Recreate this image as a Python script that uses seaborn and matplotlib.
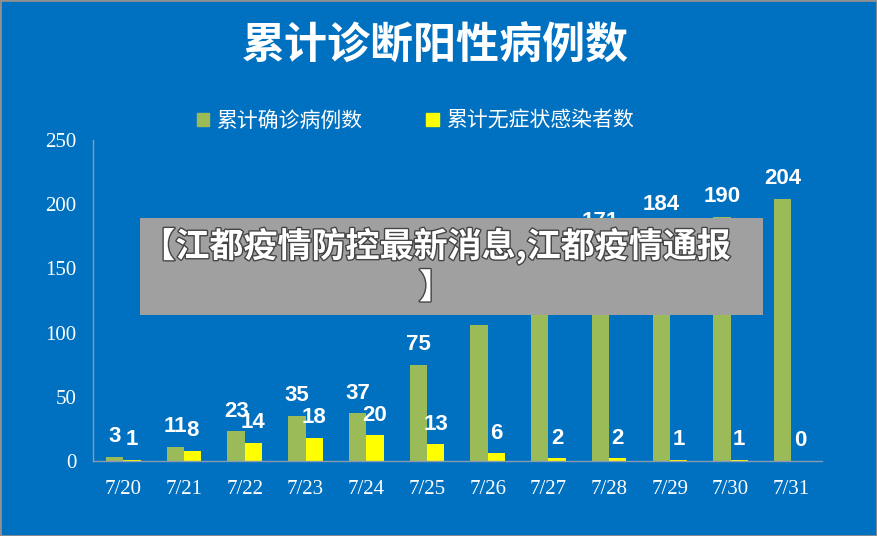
import matplotlib
matplotlib.use("Agg")
import matplotlib.pyplot as plt
import matplotlib.patheffects as pe
from matplotlib.patches import Rectangle
import seaborn as sns
import pandas as pd

dates = ["7/20", "7/21", "7/22", "7/23", "7/24", "7/25",
         "7/26", "7/27", "7/28", "7/29", "7/30", "7/31"]
confirmed = [3, 11, 23, 35, 37, 75, 106, 131, 171, 184, 190, 204]
asymptomatic = [1, 8, 14, 18, 20, 13, 6, 2, 2, 1, 1, 0]
series_names = ["累计确诊病例数", "累计无症状感染者数"]
colors = ["#9BBB59", "#FFFF00"]

df = pd.DataFrame({"date": dates * 2,
                   "value": confirmed + asymptomatic,
                   "series": [series_names[0]] * len(dates) + [series_names[1]] * len(dates)})

sns.set_theme(style="white")
plt.rcParams['font.family'] = ['Noto Sans CJK SC', 'DejaVu Sans']

bg = "#0070C0"
fig = plt.figure(figsize=(8.77, 5.36), dpi=100, facecolor=bg)
ax = fig.add_axes([0.106, 0.140, 0.831, 0.599])
ax.set_facecolor(bg)

sns.barplot(data=df, x="date", y="value", hue="series", palette=colors,
            width=0.57, saturation=1, ax=ax, legend=False,
            edgecolor="none", linewidth=0)

# value labels (narrow bold numbers)
for cont in ax.containers:
    for bar in cont:
        h = bar.get_height()
        ax.annotate(f"{int(h)}", (bar.get_x() + bar.get_width() / 2, h),
                    xytext=(0, 7), textcoords="offset points",
                    ha="center", va="bottom", color="white",
                    fontsize=16, fontweight="bold",
                    family=["Liberation Sans", "DejaVu Sans"])

ax.set_ylim(0, 250)
ax.set_xlim(-0.5, 11.5)
ax.set_yticks(range(0, 251, 50))
ax.set_xlabel("")
ax.set_ylabel("")
for s in ["top", "right"]:
    ax.spines[s].set_visible(False)
for s in ["left", "bottom"]:
    ax.spines[s].set_color("#8A9BB0")
    ax.spines[s].set_linewidth(1)
ax.tick_params(axis="both", length=0, colors="white", labelsize=15)
ax.tick_params(axis="x", pad=14)
ax.tick_params(axis="y", pad=12)
for lab in ax.get_xticklabels() + ax.get_yticklabels():
    lab.set_family(["Liberation Serif"])

# legend
handles = [Rectangle((0, 0), 1, 1, color=c) for c in colors]
fig.legend(handles, series_names, loc="center", bbox_to_anchor=(0.474, 0.775),
           ncol=2, frameon=False, fontsize=15, labelcolor="white",
           handlelength=0.6, handleheight=0.6, handletextpad=0.4, columnspacing=3.0)

fig.text(0.496, 0.915, "累计诊断阳性病例数", ha="center", va="center",
         color="white", fontsize=31, fontweight="bold")

# banner overlay
fig.patches.append(Rectangle((0.160, 0.412), 0.710, 0.181, transform=fig.transFigure,
                             facecolor="#A0A0A0", edgecolor="none", zorder=5))
fig.text(0.497, 0.503, "【江都疫情防控最新消息,江都疫情通报\n】", ha="center", va="center",
         multialignment="center", color="white", fontsize=24.5, fontweight="bold",
         linespacing=1.2, zorder=6,
         path_effects=[pe.withStroke(linewidth=2, foreground="#444444")])

fig.patches.append(Rectangle((0, 0), 1, 1, transform=fig.transFigure, fill=False,
                             edgecolor="#909090", linewidth=2, zorder=10))

fig.savefig("out.png", dpi=100, facecolor=bg)
